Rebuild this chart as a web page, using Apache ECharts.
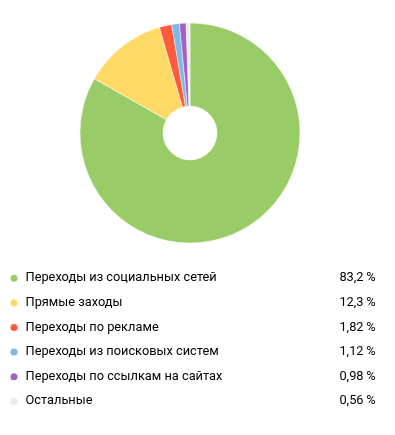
<!DOCTYPE html>
<html>
<head>
<meta charset="utf-8">
<script src="https://cdn.jsdelivr.net/npm/echarts@6/dist/echarts.min.js"></script>
<style>html,body{margin:0;padding:0;background:#fff;}#c{width:395px;height:435px;}</style>
</head>
<body>
<div id="c"></div>
<script>
const categories = ['Переходы из социальных сетей','Прямые заходы','Переходы по рекламе','Переходы из поисковых систем','Переходы по ссылкам на сайтах','Остальные'];
const values = [83.2, 12.3, 1.82, 1.12, 0.98, 0.56];
const valueLabels = ['83,2\u2009%','12,3\u2009%','1,82\u2009%','1,12\u2009%','0,98\u2009%','0,56\u2009%'];
const colors = ['#99cc66','#ffd966','#ff5a3c','#7db8e8','#a65fc2','#ebebeb'];

const chart = echarts.init(document.getElementById('c'));
const data = categories.map((n,i)=>({name:n, value:values[i], itemStyle:{color:colors[i]}}));
chart.setOption({
  animation:false,
  legend:{
    orient:'vertical', left:8.5, top:271.8, padding:0,
    icon:'circle', itemWidth:13, itemHeight:9, itemGap:11.6,
    selectedMode:false,
    data:categories,
    formatter:function(name){
      const i = categories.indexOf(name);
      return '{n|'+name+'}{v|'+valueLabels[i]+'}';
    },
    textStyle:{
      fontFamily:'Roboto', fontSize:12.8, color:'#000',
      rich:{
        n:{width:300, fontFamily:'Roboto', fontSize:12.8, color:'#000', lineHeight:14},
        v:{width:50, align:'right', fontFamily:'Roboto', fontSize:12.8, color:'#000', lineHeight:14}
      }
    }
  },
  series:[{
    type:'pie', center:[190,133], radius:[27,110],
    startAngle:90, clockwise:true,
    label:{show:false}, labelLine:{show:false},
    silent:true,
    itemStyle:{borderColor:'#fff', borderWidth:0.5},
    data:data
  }]
});
</script>
</body>
</html>
